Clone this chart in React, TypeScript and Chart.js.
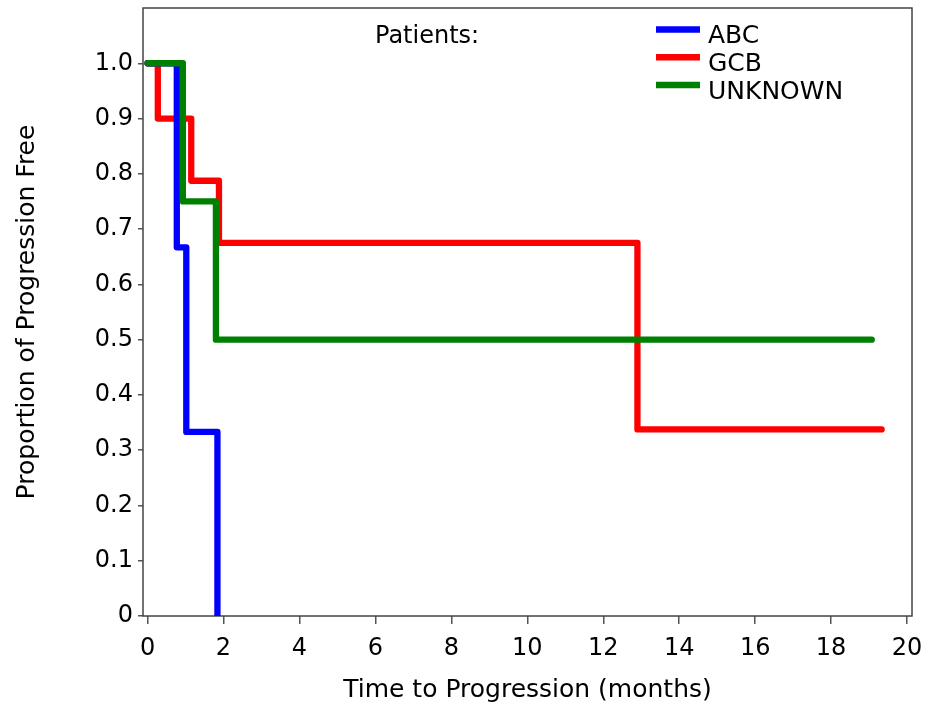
import React, { useEffect, useRef } from "react";
import { Chart, registerables } from "chart.js";

Chart.register(...registerables);

// Kaplan-Meier step data (time in months, proportion progression free)
const abcTime = [0, 0.77, 1.02, 1.84];
const abcSurv = [1, 0.667, 0.333, 0];
const gcbTime = [0, 0.27, 1.15, 1.88, 12.9, 19.33];
const gcbSurv = [1, 0.9, 0.7875, 0.675, 0.3375, 0.3375];
const unkTime = [0, 0.93, 1.8, 19.07];
const unkSurv = [1, 0.75, 0.5, 0.5];

const seriesNames = ["ABC", "GCB", "UNKNOWN"];
const seriesColors = ["#0000FF", "#FF0000", "#008000"];
const seriesOrder = [1, 2, 0];

const xTicks = [0, 2, 4, 6, 8, 10, 12, 14, 16, 18, 20];
const yTicks = [0, 0.1, 0.2, 0.3, 0.4, 0.5, 0.6, 0.7, 0.8, 0.9, 1.0];

const legendTitle = "Patients:";
const xTitle = "Time to Progression (months)";
const yTitle = "Proportion of Progression Free";

const FONT = '"DejaVu Sans", "Liberation Sans", Arial, sans-serif';

const framePlugin = {
  id: "frame",
  beforeDatasetsDraw(chart: any) {
    const { ctx, chartArea } = chart;
    const { left, top, right, bottom } = chartArea;
    ctx.save();
    ctx.strokeStyle = "#444444";
    ctx.lineWidth = 1.5;
    ctx.strokeRect(left, top, right - left, bottom - top);
    ctx.restore();
  },
};

const legendPlugin = {
  id: "kmLegend",
  afterDraw(chart: any) {
    const { ctx } = chart;
    ctx.save();
    ctx.fillStyle = "#000000";
    ctx.textBaseline = "alphabetic";
    ctx.textAlign = "left";
    ctx.font = `24px ${FONT}`;
    ctx.fillText(legendTitle, 375, 43);
    chart.data.datasets.forEach((ds: any, i: number) => {
      const y = 29.5 + i * 27.8;
      ctx.strokeStyle = ds.borderColor;
      ctx.lineWidth = 6.5;
      ctx.lineCap = "butt";
      ctx.beginPath();
      ctx.moveTo(656, y);
      ctx.lineTo(700, y);
      ctx.stroke();
      ctx.font = `25px ${FONT}`;
      ctx.fillText(ds.label, 708, y + 13.5);
    });
    ctx.restore();
  },
};

export default function App() {
  const canvasRef = useRef<HTMLCanvasElement | null>(null);

  useEffect(() => {
    if (!canvasRef.current) return;
    const times = [abcTime, gcbTime, unkTime];
    const survs = [abcSurv, gcbSurv, unkSurv];
    const datasets = seriesNames.map((name, s) => ({
      label: name,
      data: times[s].map((t, i) => ({ x: t, y: survs[s][i] })),
      borderColor: seriesColors[s],
      backgroundColor: seriesColors[s],
      borderWidth: 6.3,
      borderCapStyle: "round" as const,
      borderJoinStyle: "round" as const,
      stepped: "before" as const,
      pointRadius: 0,
      fill: false,
      order: seriesOrder[s],
    }));

    const chart = new Chart(canvasRef.current, {
      type: "line",
      data: { datasets },
      options: {
        animation: false,
        responsive: false,
        events: [],
        layout: { padding: { top: 8, right: 16, left: 0, bottom: 0 } },
        plugins: {
          legend: { display: false },
          tooltip: { enabled: false },
          title: { display: false },
        },
        scales: {
          x: {
            type: "linear",
            min: -0.12,
            max: 20.13,
            afterBuildTicks: (scale: any) => {
              scale.ticks = xTicks.map((v) => ({ value: v }));
            },
            afterFit: (scale: any) => {
              scale.height = 89;
              scale.paddingLeft = 0;
              scale.paddingRight = 0;
              scale.paddingTop = 0;
              scale.paddingBottom = 0;
            },
            ticks: {
              font: { family: FONT, size: 24 },
              color: "#000000",
              padding: 10,
              maxRotation: 0,
              autoSkip: false,
              callback: (v: any) => String(v),
            },
            grid: {
              drawOnChartArea: false,
              drawTicks: true,
              tickLength: 8,
              color: "#555555",
              lineWidth: 1.5,
            },
            border: { display: false },
            title: {
              display: true,
              text: xTitle,
              color: "#000000",
              font: { family: FONT, size: 25 },
              padding: { top: 0, bottom: 0 },
            },
          },
          y: {
            type: "linear",
            min: 0,
            max: 1.1,
            afterBuildTicks: (scale: any) => {
              scale.ticks = yTicks.map((v) => ({ value: v }));
            },
            afterFit: (scale: any) => {
              scale.width = 143;
              scale.paddingLeft = 0;
              scale.paddingRight = 0;
              scale.paddingTop = 0;
              scale.paddingBottom = 0;
            },
            ticks: {
              font: { family: FONT, size: 24 },
              color: "#000000",
              padding: 5,
              autoSkip: false,
              callback: (v: any) => (Number(v) === 0 ? "0" : Number(v).toFixed(1)),
            },
            grid: {
              drawOnChartArea: false,
              drawTicks: true,
              tickLength: 5,
              color: "#555555",
              lineWidth: 1.5,
            },
            border: { display: false },
            title: {
              display: true,
              text: yTitle,
              color: "#000000",
              font: { family: FONT, size: 25 },
              padding: { top: 12.6, bottom: 0 },
            },
          },
        },
      },
      plugins: [framePlugin, legendPlugin],
    });

    return () => {
      chart.destroy();
    };
  }, []);

  return (
    <div style={{ position: "absolute", left: 0, top: 0, width: 928, height: 705, background: "#ffffff" }}>
      <canvas ref={canvasRef} width={928} height={705} style={{ display: "block" }} />
    </div>
  );
}
